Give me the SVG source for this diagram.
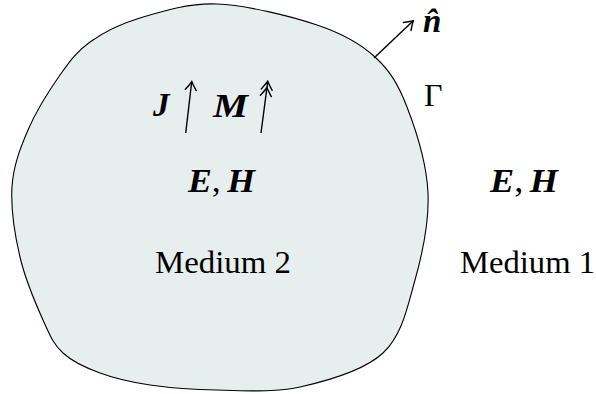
<svg xmlns="http://www.w3.org/2000/svg" width="596" height="394" viewBox="0 0 596 394">
<style>
.t{font-family:"Liberation Serif","Times New Roman",serif;font-size:32px;fill:#000}
.m{font-family:"Liberation Serif","Times New Roman",serif;font-size:33px;font-weight:bold;font-style:italic;fill:#000}
.c{font-weight:normal;font-style:normal}
.ln{stroke:#000;stroke-width:1.4;fill:none}
</style>
<defs>
<marker id="ah" viewBox="-10 -7 12 14" markerWidth="12" markerHeight="14" refX="0" refY="0" orient="auto" markerUnits="userSpaceOnUse">
<path d="M-8,-5.5 Q-2,-1.2 0.5,0 Q-2,1.2 -8,5.5" fill="none" stroke="#000" stroke-width="1.4" stroke-linecap="round"/>
</marker>
</defs>
<g id="medium2">
<path d="M12,187 C13.3,165.8 20,148.7 28,130 C36,111.3 49.7,89.7 60,75 C70.3,60.3 76.7,51.5 90,42 C103.3,32.5 118.8,24.3 140,18 C161.2,11.7 187.5,2.8 217,4 C246.5,5.2 290.7,16.2 317,25 C343.3,33.8 360,43.3 375,57 C390,70.7 398.2,84.3 407,107 C415.8,129.7 426.7,164.2 428,193 C429.3,221.8 422.5,253.3 415,280 C407.5,306.7 402.2,335.2 383,353 C363.8,370.8 327.7,380.8 300,387 C272.3,393.2 242,390.3 217,390 C192,389.7 169.5,387.8 150,385 C130.5,382.2 114.5,378.3 100,373 C85.5,367.7 72.5,361.8 63,353 C53.5,344.2 50.2,336 43,320 C35.8,304 25.2,279.2 20,257 C14.8,234.8 10.7,208.2 12,187 Z" fill="#e7efee" stroke="#000" stroke-width="1.1"/>
<text class="t" x="155" y="273" textLength="136" lengthAdjust="spacingAndGlyphs">Medium 2</text>
<text class="m" x="188" y="192" textLength="67" lengthAdjust="spacingAndGlyphs">E<tspan class="c">,</tspan><tspan dx="6">H</tspan></text>
<text class="m" x="153" y="116">J</text>
<text class="m" x="213" y="117" textLength="35" lengthAdjust="spacingAndGlyphs">M</text>
</g>
<g id="medium1">
<text class="t" x="460" y="273" textLength="135" lengthAdjust="spacingAndGlyphs">Medium 1</text>
<text class="m" x="490" y="192" textLength="68" lengthAdjust="spacingAndGlyphs">E<tspan class="c">,</tspan><tspan dx="6">H</tspan></text>
</g>
<g id="boundary">
<text class="t" x="424" y="106">Γ</text>
<text class="m" x="423" y="32" font-size="38">n̂</text>
</g>
<g id="connectors">
<path class="ln" d="M185.7,133 L191.7,82" marker-end="url(#ah)"/>
<path class="ln" d="M261,133 L266.9,88 L267.7,81.7" marker-mid="url(#ah)" marker-end="url(#ah)"/>
<path class="ln" d="M374,58 L413,21" marker-end="url(#ah)"/>
</g>
</svg>
